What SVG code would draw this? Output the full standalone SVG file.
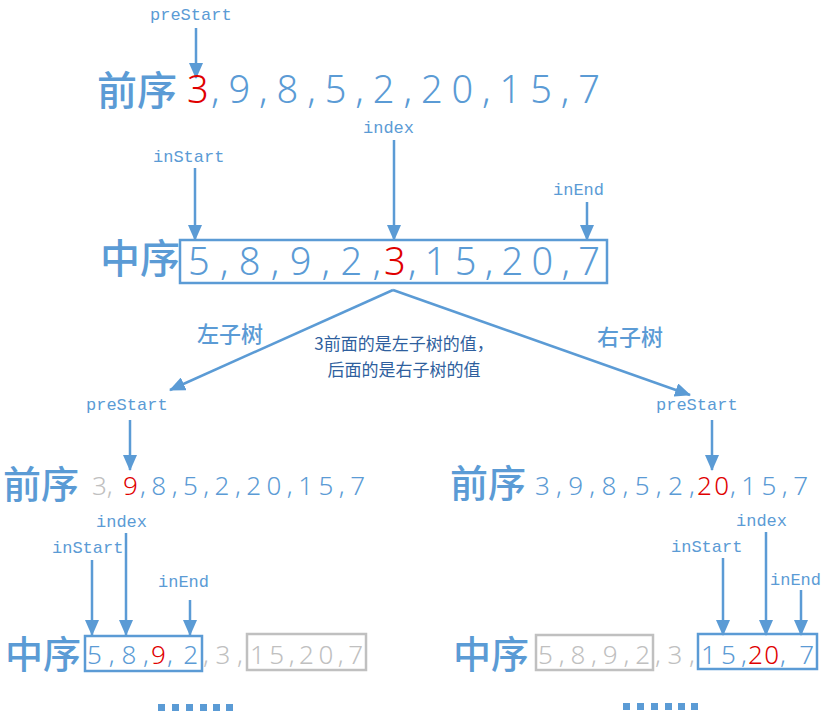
<svg xmlns="http://www.w3.org/2000/svg" width="835" height="721" viewBox="0 0 835 721">
<style>
.lbl{font-family:"Liberation Mono","DejaVu Sans Mono",monospace;font-size:17px;fill:#5B9BD5}
.cn{font-family:"Noto Sans CJK SC",sans-serif;fill:#5B9BD5;font-weight:500}
.big{font-family:"Noto Sans","DejaVu Sans",sans-serif;font-size:38px;fill:#5B9BD5;font-weight:300}
.sm{font-family:"Noto Sans","DejaVu Sans",sans-serif;font-size:26px;fill:#5B9BD5;font-weight:300}
.r{fill:#E00000}.g{fill:#C0C0C0}
.bx{fill:none;stroke:#5B9BD5;stroke-width:2.5}
.gb{fill:none;stroke:#C0C0C0;stroke-width:2.5}
.dot{fill:#5B9BD5}
</style>
<defs>
<marker id="m" markerWidth="16" markerHeight="14" refX="15" refY="7" orient="auto" markerUnits="userSpaceOnUse"><path d="M0,0L16,7L0,14z" fill="#5B9BD5"/></marker></defs>
<g id="connectors" stroke="#5B9BD5" stroke-width="2.5" fill="none">
<path d="M196,28V78" marker-end="url(#m)"/>
<path d="M195,168V240" marker-end="url(#m)"/>
<path d="M394,140V240" marker-end="url(#m)"/>
<path d="M587,202V240" marker-end="url(#m)"/>
<path d="M393,290L170,390" marker-end="url(#m)"/>
<path d="M393,290L690,395" marker-end="url(#m)"/>
<path d="M130,420V470" marker-end="url(#m)"/>
<path d="M92,560V635" marker-end="url(#m)"/>
<path d="M126,533V635" marker-end="url(#m)"/>
<path d="M190,600V635" marker-end="url(#m)"/>
<path d="M712,420V470" marker-end="url(#m)"/>
<path d="M723,558V635" marker-end="url(#m)"/>
<path d="M766,532V635" marker-end="url(#m)"/>
<path d="M801,590V635" marker-end="url(#m)"/>
</g>
<g id="top-pre">
<text class="lbl" x="150" y="20">preStart</text>
<text class="cn" x="97" y="105" font-size="40">前序</text>
<text class="big r" x="187" y="103">3</text>
<text class="big" x="211" y="103" textLength="389" lengthAdjust="spacing">,9,8,5,2,20,15,7</text>
</g>
<g id="top-in">
<text class="lbl" x="153" y="162">inStart</text>
<text class="lbl" x="363" y="133">index</text>
<text class="lbl" x="553" y="195">inEnd</text>
<text class="cn" x="100" y="273" font-size="40">中序</text>
<rect class="bx" x="180" y="240" width="427" height="43"/>
<text class="big" x="188" y="275" textLength="193" lengthAdjust="spacing">5,8,9,2,</text>
<text class="big r" x="384" y="275">3</text>
<text class="big" x="408" y="275" textLength="192" lengthAdjust="spacing">,15,20,7</text>
</g>
<g id="mid-labels">
<text class="cn" x="197" y="342" font-size="22">左子树</text>
<text class="cn" x="597" y="345" font-size="22">右子树</text>
<text x="404" y="350" text-anchor="middle" font-family="Noto Sans CJK SC,sans-serif" font-size="17" fill="#2F5F9E">3前面的是左子树的值，</text>
<text x="404" y="376" text-anchor="middle" font-family="Noto Sans CJK SC,sans-serif" font-size="17" fill="#2F5F9E">后面的是右子树的值</text>
</g>
<g id="left-pre">
<text class="lbl" x="86" y="410">preStart</text>
<text class="cn" x="3" y="498" font-size="38">前序</text>
<text class="sm g" x="92" y="495">3,</text>
<text class="sm r" x="123" y="495">9</text>
<text class="sm" x="140" y="495" textLength="225" lengthAdjust="spacing">,8,5,2,20,15,7</text>
</g>
<g id="left-in">
<text class="lbl" x="96" y="527">index</text>
<text class="lbl" x="52" y="553">inStart</text>
<text class="lbl" x="158" y="587">inEnd</text>
<text class="cn" x="5" y="668" font-size="38">中序</text>
<rect class="bx" x="85" y="636" width="117" height="35"/>
<rect class="gb" x="247" y="634" width="119" height="36"/>
<text class="sm" x="87" y="664" textLength="62" lengthAdjust="spacing">5,8,</text>
<text class="sm r" x="151" y="664">9</text>
<text class="sm" x="167" y="664" textLength="31" lengthAdjust="spacing">,2</text>
<text class="sm g" x="203" y="664" textLength="40" lengthAdjust="spacing">,3,</text>
<text class="sm g" x="250" y="664" textLength="113" lengthAdjust="spacing">15,20,7</text>
</g>
<g id="left-dots" class="dot">
<rect x="158" y="704" width="7" height="7"/><rect x="172" y="704" width="7" height="7"/><rect x="186" y="704" width="7" height="7"/><rect x="200" y="704" width="7" height="7"/><rect x="213" y="704" width="7" height="7"/><rect x="226" y="704" width="7" height="7"/>
</g>
<g id="right-pre">
<text class="lbl" x="656" y="410">preStart</text>
<text class="cn" x="450" y="497" font-size="38">前序</text>
<text class="sm" x="535" y="495" textLength="160" lengthAdjust="spacing">3,9,8,5,2,</text>
<text class="sm r" x="697" y="495" textLength="32" lengthAdjust="spacing">20</text>
<text class="sm" x="730" y="495" textLength="78" lengthAdjust="spacing">,15,7</text>
</g>
<g id="right-in">
<text class="lbl" x="736" y="526">index</text>
<text class="lbl" x="671" y="552">inStart</text>
<text class="lbl" x="770" y="585">inEnd</text>
<text class="cn" x="453" y="668" font-size="38">中序</text>
<rect class="gb" x="536" y="635" width="117" height="35"/>
<rect class="bx" x="698" y="634" width="119" height="35"/>
<text class="sm g" x="538" y="664" textLength="112" lengthAdjust="spacing">5,8,9,2</text>
<text class="sm g" x="655" y="664" textLength="40" lengthAdjust="spacing">,3,</text>
<text class="sm" x="701" y="664" textLength="46" lengthAdjust="spacing">15,</text>
<text class="sm r" x="748" y="664" textLength="31" lengthAdjust="spacing">20</text>
<text class="sm" x="780" y="664" textLength="34" lengthAdjust="spacing">,7</text>
</g>
<g id="right-dots" class="dot">
<rect x="623" y="703" width="7" height="7"/><rect x="637" y="703" width="7" height="7"/><rect x="651" y="703" width="7" height="7"/><rect x="665" y="703" width="7" height="7"/><rect x="678" y="703" width="7" height="7"/><rect x="691" y="703" width="7" height="7"/>
</g>
</svg>
